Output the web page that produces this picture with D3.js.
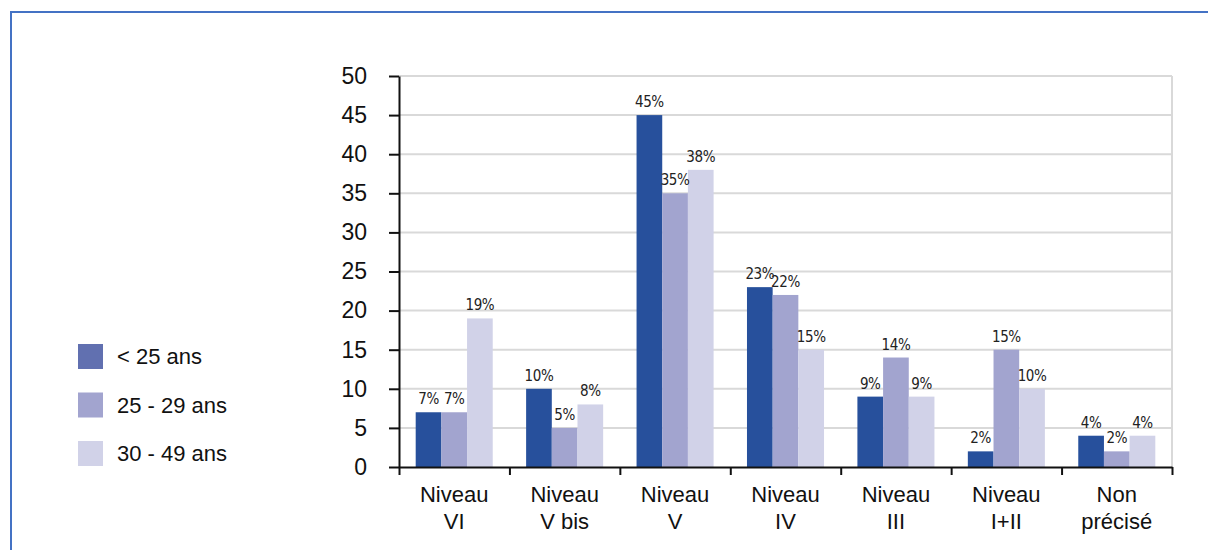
<!DOCTYPE html>
<html>
<head>
<meta charset="utf-8">
<script src="https://cdn.jsdelivr.net/npm/d3@7"></script>
<style>
  html, body { margin: 0; padding: 0; background: #fff; }
  svg { display: block; }
</style>
</head>
<body>
<svg id="chart" width="1208" height="550"></svg>
<script>
// Niveau de formation par tranche d'âge (en %)
const categories = [
  ["Niveau", "VI"],
  ["Niveau", "V bis"],
  ["Niveau", "V"],
  ["Niveau", "IV"],
  ["Niveau", "III"],
  ["Niveau", "I+II"],
  ["Non", "précisé"]
];
const seriesNames = ["< 25 ans", "25 - 29 ans", "30 - 49 ans"];
const under25 = [7, 10, 45, 23, 9, 2, 4];
const age25to29 = [7, 5, 35, 22, 14, 15, 2];
const age30to49 = [19, 8, 38, 15, 9, 10, 4];
const yTicks = [0, 5, 10, 15, 20, 25, 30, 35, 40, 45, 50];

const barColors = ["#27509c", "#a2a4cf", "#d1d2e8"];
const legendColors = ["#6170b0", "#a2a4cf", "#d1d2e8"];

const seriesValues = [under25, age25to29, age30to49];
const catKeys = categories.map(c => c.join(" "));
const rows = catKeys.map((k, i) => ({
  key: k,
  lines: categories[i],
  values: seriesNames.map((s, j) => ({ series: s, index: j, value: seriesValues[j][i] }))
}));

const svg = d3.select("#chart");
const plotLeft = 399, plotRight = 1172, plotTop = 76, plotBottom = 467;

// Cadre bleu (haut et gauche)
svg.append("path")
  .attr("d", "M11,550 L11,12 L1208,12")
  .attr("fill", "none")
  .attr("stroke", "#4472c4")
  .attr("stroke-width", 2);

const y = d3.scaleLinear().domain([0, 50]).range([plotBottom, plotTop]);
const x0 = d3.scaleBand().domain(catKeys).range([plotLeft, plotRight]).paddingInner(0).paddingOuter(0);
const x1 = d3.scaleBand().domain(seriesNames).range([0, x0.bandwidth()]).paddingInner(0).paddingOuter(0.65);
const boundary = d3.scaleLinear().domain([0, catKeys.length]).range([plotLeft, plotRight]);

// Quadrillage horizontal
svg.append("g").selectAll("line")
  .data(yTicks.filter(t => t > 0))
  .join("line")
  .attr("x1", plotLeft).attr("x2", plotRight)
  .attr("y1", d => y(d)).attr("y2", d => y(d))
  .attr("stroke", "#d9d9d9")
  .attr("stroke-width", 2);

// Bord droit de la zone de tracé
svg.append("line")
  .attr("x1", plotRight).attr("x2", plotRight)
  .attr("y1", y(50)).attr("y2", y(0))
  .attr("stroke", "#d9d9d9")
  .attr("stroke-width", 2);

// Barres
const groups = svg.append("g").selectAll("g")
  .data(rows)
  .join("g")
  .attr("transform", d => `translate(${x0(d.key)},0)`);

groups.selectAll("rect")
  .data(d => d.values)
  .join("rect")
  .attr("x", d => x1(d.series))
  .attr("y", d => y(d.value))
  .attr("width", x1.bandwidth())
  .attr("height", d => y(0) - y(d.value))
  .attr("fill", d => barColors[d.index]);

// Étiquettes de valeur
groups.selectAll("text")
  .data(d => d.values)
  .join("text")
  .attr("x", d => x1(d.series) + x1.bandwidth() / 2)
  .attr("y", d => y(d.value) - 8)
  .attr("text-anchor", "middle")
  .attr("font-family", "'Liberation Sans Narrow', 'DejaVu Sans Condensed', sans-serif")
  .attr("font-stretch", "condensed")
  .attr("font-size", 15)
  .attr("letter-spacing", -0.4)
  .attr("fill", "#222")
  .text(d => d.value + "%");

// Axe vertical
const yAxis = svg.append("g")
  .attr("transform", `translate(${plotLeft},0)`)
  .call(d3.axisLeft(y).tickValues(yTicks).tickSizeInner(10).tickSizeOuter(0).tickPadding(22));
yAxis.select(".domain").attr("stroke", "#111").attr("stroke-width", 2);
yAxis.selectAll(".tick line").attr("stroke", "#111").attr("stroke-width", 2);
yAxis.selectAll(".tick text")
  .attr("font-family", "'Liberation Sans', Arial, sans-serif")
  .attr("font-size", 23)
  .attr("fill", "#111");

// Axe horizontal (graduations aux limites des catégories)
const xAxis = svg.append("g")
  .attr("transform", `translate(0,${plotBottom})`)
  .call(d3.axisBottom(boundary).tickValues(d3.range(catKeys.length + 1)).tickFormat("").tickSizeInner(8).tickSizeOuter(0));
xAxis.select(".domain").attr("stroke", "#111").attr("stroke-width", 2);
xAxis.selectAll(".tick line").attr("stroke", "#111").attr("stroke-width", 2);

// Libellés des catégories
const catLabels = svg.append("g").selectAll("text")
  .data(rows)
  .join("text")
  .attr("x", d => x0(d.key) + x0.bandwidth() / 2)
  .attr("y", 502)
  .attr("text-anchor", "middle")
  .attr("font-family", "'Liberation Sans', Arial, sans-serif")
  .attr("font-size", 22)
  .attr("fill", "#111");
catLabels.selectAll("tspan")
  .data(d => d.lines)
  .join("tspan")
  .attr("x", function () { return d3.select(this.parentNode).attr("x"); })
  .attr("dy", (d, i) => i === 0 ? 0 : 26.5)
  .text(d => d);

// Légende
const legend = svg.append("g").selectAll("g")
  .data(seriesNames)
  .join("g")
  .attr("transform", (d, i) => `translate(78,${344 + i * 48.5})`);
legend.append("rect")
  .attr("width", 25).attr("height", 25)
  .attr("fill", (d, i) => legendColors[i]);
legend.append("text")
  .attr("x", 39)
  .attr("y", 20)
  .attr("font-family", "'Liberation Sans', Arial, sans-serif")
  .attr("font-size", 22)
  .attr("fill", "#111")
  .text(d => d);
</script>
</body>
</html>
